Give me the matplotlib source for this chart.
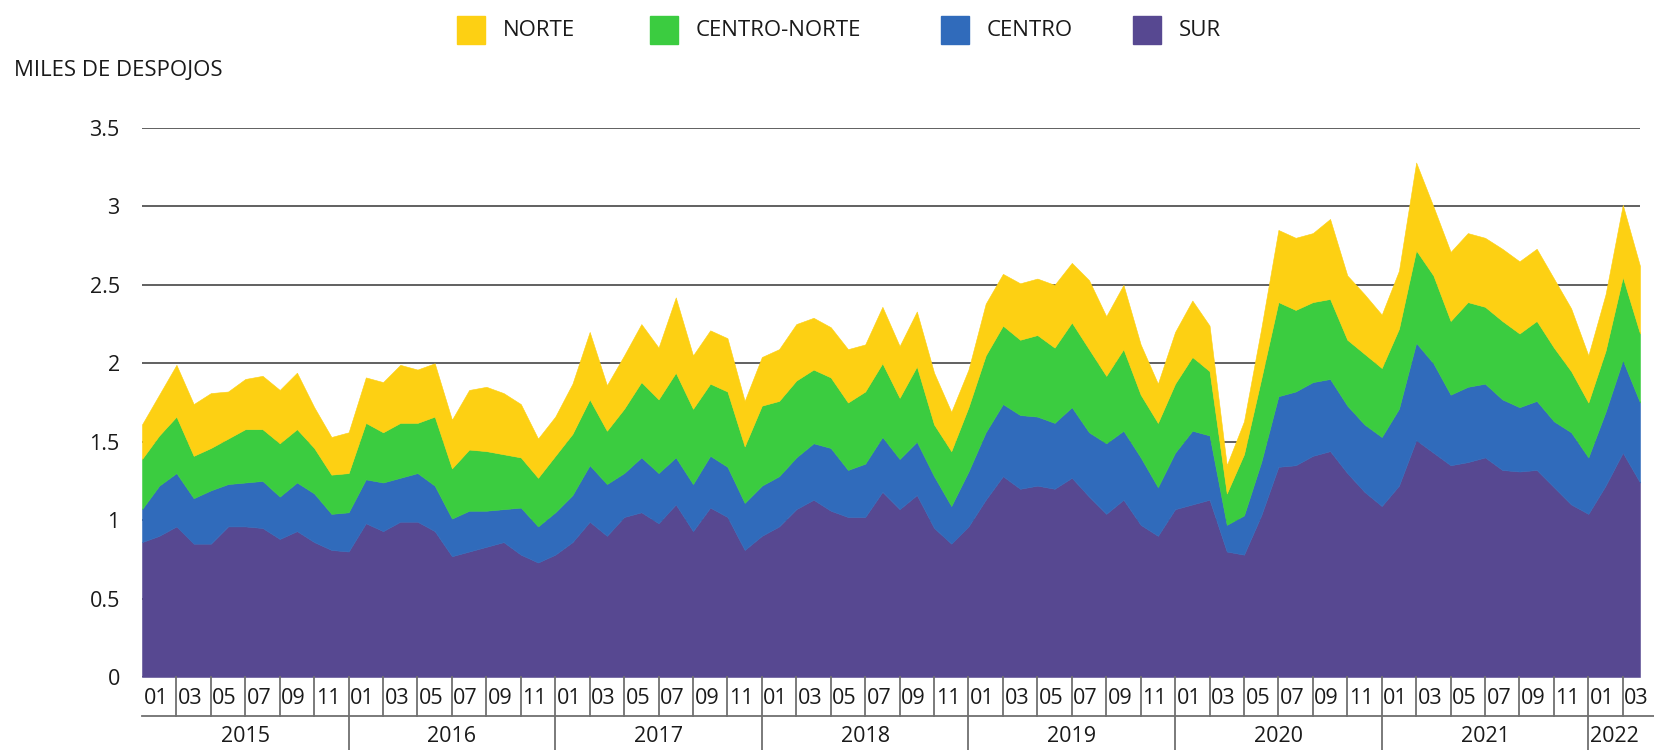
import numpy as np
import matplotlib.pyplot as plt
from matplotlib.patches import Rectangle
from matplotlib.transforms import blended_transform_factory

plt.rcParams['font.family'] = ['Open Sans', 'DejaVu Sans']

# monthly series, 2015-01 .. 2022-04 (miles de despojos)
sur = [0.86, 0.90, 0.96, 0.85, 0.85, 0.96, 0.96, 0.95, 0.88, 0.93, 0.86, 0.81,
       0.80, 0.98, 0.93, 0.99, 0.99, 0.93, 0.77, 0.80, 0.83, 0.86, 0.78, 0.73,
       0.78, 0.86, 0.99, 0.90, 1.02, 1.05, 0.98, 1.10, 0.93, 1.08, 1.02, 0.81,
       0.90, 0.96, 1.07, 1.13, 1.06, 1.02, 1.02, 1.18, 1.07, 1.16, 0.95, 0.85,
       0.96, 1.13, 1.28, 1.20, 1.22, 1.20, 1.27, 1.15, 1.04, 1.13, 0.97, 0.90,
       1.07, 1.10, 1.13, 0.80, 0.78, 1.03, 1.34, 1.35, 1.41, 1.44, 1.30, 1.18,
       1.09, 1.22, 1.51, 1.43, 1.35, 1.37, 1.40, 1.32, 1.31, 1.32, 1.21, 1.10,
       1.04, 1.22, 1.43, 1.24]
centro = [0.21, 0.32, 0.34, 0.29, 0.34, 0.27, 0.28, 0.30, 0.27, 0.31, 0.31, 0.23,
          0.25, 0.28, 0.31, 0.28, 0.31, 0.29, 0.24, 0.26, 0.23, 0.21, 0.30, 0.23,
          0.27, 0.30, 0.36, 0.33, 0.28, 0.35, 0.32, 0.30, 0.30, 0.33, 0.32, 0.30,
          0.32, 0.32, 0.33, 0.36, 0.40, 0.30, 0.34, 0.35, 0.32, 0.34, 0.33, 0.24,
          0.35, 0.43, 0.46, 0.47, 0.44, 0.42, 0.45, 0.41, 0.45, 0.44, 0.43, 0.31,
          0.36, 0.47, 0.41, 0.17, 0.25, 0.34, 0.45, 0.47, 0.47, 0.46, 0.43, 0.43,
          0.44, 0.49, 0.62, 0.57, 0.45, 0.48, 0.47, 0.45, 0.41, 0.44, 0.42, 0.46,
          0.36, 0.47, 0.59, 0.51]
centro_norte = [0.32, 0.32, 0.36, 0.27, 0.27, 0.29, 0.34, 0.33, 0.34, 0.34, 0.29, 0.25,
                0.25, 0.36, 0.32, 0.35, 0.32, 0.44, 0.32, 0.39, 0.38, 0.35, 0.32, 0.31,
                0.36, 0.39, 0.42, 0.34, 0.41, 0.48, 0.47, 0.54, 0.48, 0.46, 0.48, 0.36,
                0.51, 0.48, 0.49, 0.47, 0.45, 0.43, 0.46, 0.47, 0.39, 0.48, 0.33, 0.35,
                0.41, 0.49, 0.50, 0.48, 0.52, 0.48, 0.54, 0.53, 0.43, 0.52, 0.40, 0.41,
                0.44, 0.47, 0.41, 0.20, 0.39, 0.53, 0.60, 0.52, 0.51, 0.51, 0.42, 0.45,
                0.44, 0.51, 0.59, 0.56, 0.47, 0.54, 0.49, 0.50, 0.47, 0.51, 0.47, 0.39,
                0.35, 0.39, 0.53, 0.44]
norte = [0.22, 0.26, 0.33, 0.33, 0.35, 0.30, 0.32, 0.34, 0.34, 0.36, 0.26, 0.24,
         0.26, 0.29, 0.32, 0.37, 0.34, 0.34, 0.31, 0.38, 0.41, 0.39, 0.34, 0.25,
         0.25, 0.32, 0.43, 0.29, 0.34, 0.37, 0.33, 0.48, 0.34, 0.34, 0.34, 0.29,
         0.31, 0.33, 0.36, 0.33, 0.32, 0.34, 0.30, 0.36, 0.33, 0.35, 0.33, 0.25,
         0.24, 0.33, 0.33, 0.36, 0.36, 0.40, 0.38, 0.44, 0.38, 0.41, 0.32, 0.25,
         0.33, 0.36, 0.29, 0.18, 0.21, 0.32, 0.46, 0.46, 0.44, 0.51, 0.41, 0.38,
         0.34, 0.37, 0.56, 0.44, 0.44, 0.44, 0.44, 0.46, 0.46, 0.46, 0.44, 0.40,
         0.30, 0.36, 0.46, 0.43]

years = ['2015', '2016', '2017', '2018', '2019', '2020', '2021', '2022']
month_labels = ['01', '03', '05', '07', '09', '11']
series_names = ['NORTE', 'CENTRO-NORTE', 'CENTRO', 'SUR']
colors = {'NORTE': '#FDD013', 'CENTRO-NORTE': '#3BCC40',
          'CENTRO': '#306BBB', 'SUR': '#574891'}

W, H = 1654, 750
fig = plt.figure(figsize=(W / 100, H / 100), dpi=100)
ax = fig.add_axes([142 / W, 1 - 677 / H, (1640 - 142) / W, (677 - 128) / H])

x = np.arange(len(sur))
ax.stackplot(x, sur, centro, centro_norte, norte,
             colors=[colors['SUR'], colors['CENTRO'], colors['CENTRO-NORTE'], colors['NORTE']],
             linewidth=0.4, edgecolor='face')

ax.set_xlim(0, len(sur) - 1)
ax.set_ylim(0, 3.5)
yt = np.arange(0, 3.51, 0.5)
ax.set_yticks(yt)
ax.set_yticklabels(['%g' % v for v in yt], fontsize=15.5, color='#1a1a1a')
ax.tick_params(axis='y', length=0, pad=16)
ax.set_xticks([])
ax.yaxis.grid(True, color='#606060', linewidth=1.4)
ax.set_axisbelow(True)
for s in ax.spines.values():
    s.set_visible(False)

# category axis drawn by hand
tr = blended_transform_factory(ax.transData, ax.transAxes)
ah = (677 - 128)
y_month = -(698 - 677) / ah
y_line = -(716 - 677) / ah
y_year = -(736 - 677) / ah
y_bot = -(750 - 677) / ah
sep = '#707070'

n = len(sur)
for i in range(0, n, 2):
    if i > 0:
        ax.plot([i, i], [0, y_line], transform=tr, color=sep, lw=1.3, clip_on=False)
    lab = month_labels[(i % 12) // 2]
    ax.text(i + 0.8, y_month, lab, transform=tr, ha='center', va='center',
            fontsize=15.5, color='#1a1a1a')
ax.plot([0, n + 0.8], [y_line, y_line], transform=tr, color=sep, lw=1.3, clip_on=False)
for k, yr in enumerate(years):
    start = 12 * k
    end = min(12 * (k + 1), n - 1)
    if k > 0:
        ax.plot([start, start], [y_line, y_bot], transform=tr, color=sep, lw=1.3, clip_on=False)
    ax.text((start + end) / 2, y_year, yr, transform=tr, ha='center', va='center',
            fontsize=15.5, color='#1a1a1a')

# legend
leg_pos = {'NORTE': 457, 'CENTRO-NORTE': 650, 'CENTRO': 941, 'SUR': 1133}
for name in series_names:
    x0 = leg_pos[name]
    fig.add_artist(Rectangle((x0 / W, 1 - 44 / H), 28 / W, 28 / H,
                             transform=fig.transFigure, color=colors[name]))
    fig.text((x0 + 46) / W, 1 - 30 / H, name, ha='left', va='center',
             fontsize=16, color='#1a1a1a')

fig.text(14 / W, 1 - 70 / H, 'MILES DE DESPOJOS', ha='left', va='center',
         fontsize=16, color='#1a1a1a')

fig.savefig('out.png', dpi=100)
